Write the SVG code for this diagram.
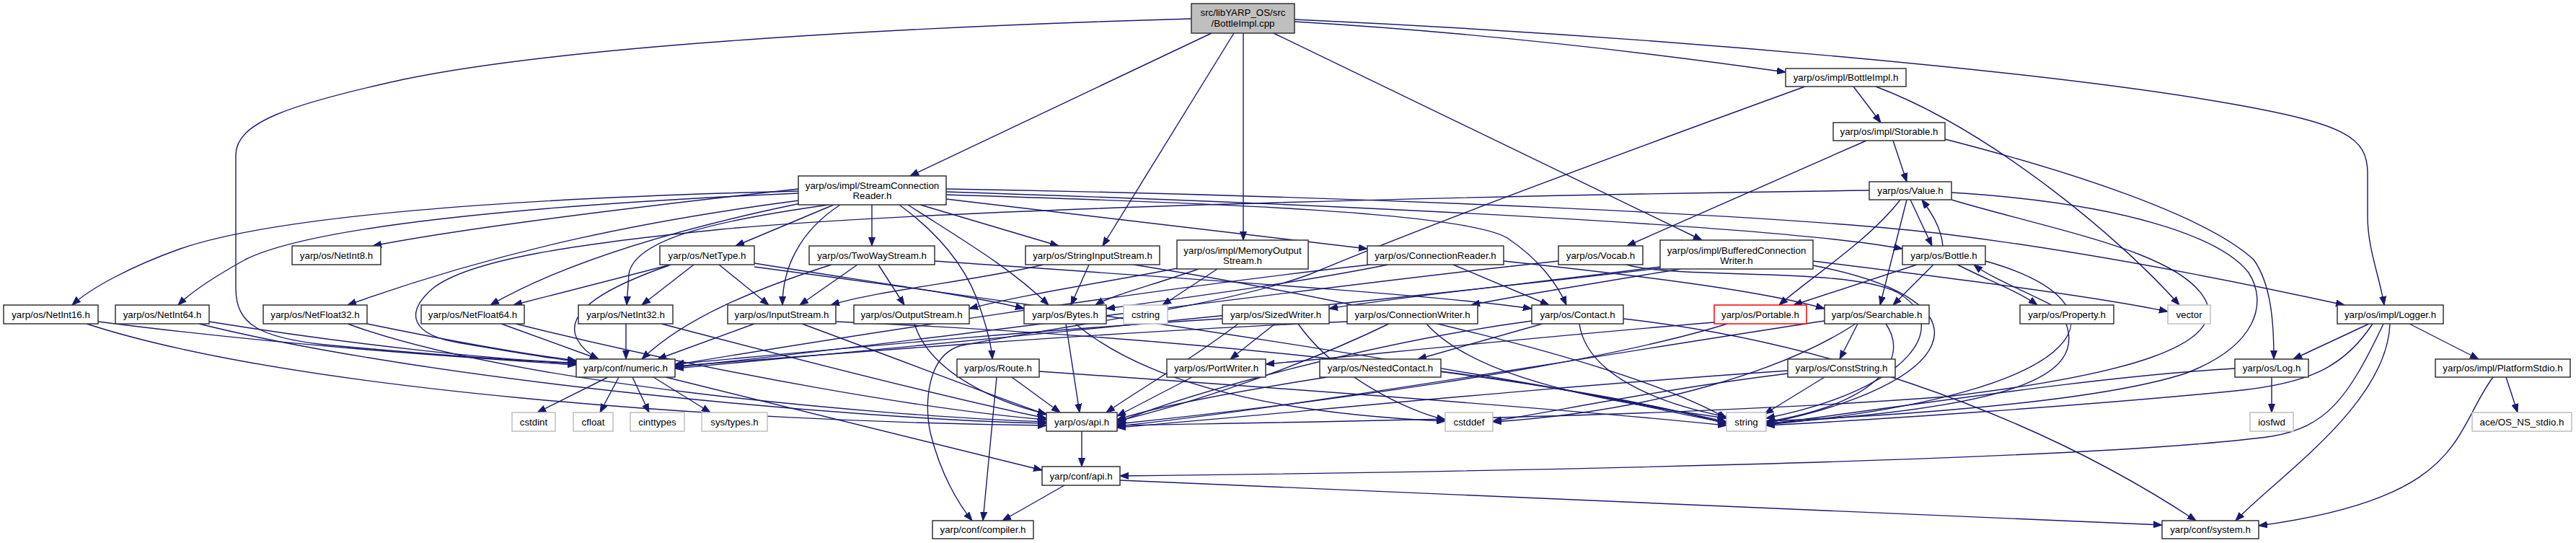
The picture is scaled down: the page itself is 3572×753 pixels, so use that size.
<svg xmlns="http://www.w3.org/2000/svg" width="3572" height="753" viewBox="0 0 3572 753">
<style>
.n rect{fill:#fff;stroke:#333;stroke-width:1.5}
.g rect{fill:#fff;stroke:#bfbfbf;stroke-width:1.5}
.r rect{fill:#fff;stroke:#ff0000;stroke-width:1.5}
.root rect{fill:#bfbfbf;stroke:#333;stroke-width:1.5}
text{font-family:"Liberation Sans",Arial,sans-serif;font-size:13.3px;fill:#000;text-anchor:middle}
#edges path{fill:none;stroke:#191970;stroke-width:1.4;marker-end:url(#a)}
</style>
<defs>
<marker id="a" markerWidth="13" markerHeight="10" refX="12" refY="5" orient="auto" markerUnits="userSpaceOnUse"><path d="M0,0.5 L12,5 L0,9.5 z" fill="#191970" stroke="#191970" stroke-width="1"/></marker>
</defs>
<rect width="3572" height="753" fill="#fff"/>
<g id="edges">
<path d="M1652,26 C1300,36 800,60 560,110 C400,145 327,170 327,215 L327,400 C327,450 360,468 450,478 C600,492 720,500 799,504"/>
<path d="M1680,46 L1262,244"/>
<path d="M1711,46 L1529,341"/>
<path d="M1724,46 L1724,333"/>
<path d="M1766,46 L2360,333"/>
<path d="M1795,30 C2050,45 2300,75 2476,100"/>
<path d="M1795,27 C2300,50 2850,100 3100,145 C3250,172 3283,190 3283,240 L3283,300 C3283,345 3300,385 3306,423"/>
<path d="M2570,120 L2608,170"/>
<path d="M2601,120 C2760,180 2940,330 3022,423"/>
<path d="M2503,120 C2200,230 1960,320 1817,380 C1700,425 1420,460 1330,480 C1285,495 1282,560 1290,600 C1305,660 1330,700 1348,722"/>
<path d="M2625,195 L2644,252"/>
<path d="M2588,195 L2256,341"/>
<path d="M2697,193 C2880,240 3060,300 3125,360 C3150,395 3153,450 3153,498"/>
<path d="M2649,277 L2679,341"/>
<path d="M2694,341 C2692,315 2676,292 2665,277"/>
<path d="M2644,277 L2607,423"/>
<path d="M2635,277 C2590,335 2510,385 2467,423"/>
<path d="M2592,264 C2000,272 1300,290 1000,318 C800,338 650,360 600,400 C560,435 570,465 640,476 C710,488 760,497 799,501"/>
<path d="M2706,267 C2950,282 3080,330 3118,378 C3145,420 3130,480 3030,518 C2900,560 2600,578 2449,584"/>
<path d="M2706,277 C2850,320 3030,350 3060,420 C3080,480 2950,520 2700,550 C2300,580 1800,585 1549,590"/>
<path d="M1107,262 C900,285 650,315 517,341"/>
<path d="M1107,265 C700,275 380,300 250,345 C180,370 125,400 100,423"/>
<path d="M1107,268 C720,285 430,315 340,360 C295,385 265,405 247,423"/>
<path d="M1108,278 C900,305 700,345 482,423"/>
<path d="M1110,282 C950,315 790,360 680,423"/>
<path d="M1149,284 C1000,305 880,330 872,380 L869,423"/>
<path d="M1156,284 L1020,341"/>
<path d="M1165,284 C1110,320 1085,370 1085,423"/>
<path d="M1209,284 L1209,341"/>
<path d="M1247,284 C1310,330 1345,380 1360,430 C1370,460 1375,480 1376,498"/>
<path d="M1259,284 C1330,330 1400,370 1454,423"/>
<path d="M1276,284 L1468,341"/>
<path d="M1312,276 L1896,345"/>
<path d="M1312,270 C1700,282 2030,295 2090,330 C2135,360 2160,395 2172,423"/>
<path d="M1312,266 C1900,285 2480,315 2638,345"/>
<path d="M1312,262 C1900,272 2500,300 2700,325 C2900,350 3100,390 3251,423"/>
<path d="M1925,367 C1800,392 1650,412 1534,428"/>
<path d="M2015,367 L2148,423"/>
<path d="M2085,362 C2300,385 2450,405 2530,428"/>
<path d="M1900,367 C1600,400 1150,470 936,506"/>
<path d="M2161,362 C1800,400 1250,478 936,509"/>
<path d="M2255,367 C2330,388 2560,370 2630,405 C2710,450 2650,540 2449,580"/>
<path d="M2302,370 C2150,390 1950,410 1843,428"/>
<path d="M2330,373 C2200,395 2100,410 2040,423"/>
<path d="M2514,362 C2700,385 2900,410 3006,432"/>
<path d="M2514,368 C2780,420 2710,535 2449,587"/>
<path d="M2302,372 C1900,420 1250,482 936,511"/>
<path d="M1633,372 C1530,392 1420,408 1344,428"/>
<path d="M1662,373 C1600,395 1540,410 1519,423"/>
<path d="M1688,373 L1612,423"/>
<path d="M1510,367 L1485,423"/>
<path d="M1447,367 C1350,390 1220,402 1152,423"/>
<path d="M1572,367 C1900,420 2250,500 2394,580"/>
<path d="M1189,367 L1109,423"/>
<path d="M1218,367 L1254,423"/>
<path d="M1153,367 C1050,400 950,440 890,498"/>
<path d="M1296,362 C1700,390 2000,410 2124,428"/>
<path d="M962,367 L890,423"/>
<path d="M997,367 L1066,423"/>
<path d="M930,367 L712,423"/>
<path d="M928,368 C850,395 780,430 800,470 C808,485 820,493 830,498"/>
<path d="M1046,365 C1200,390 1350,410 1420,428"/>
<path d="M1046,370 C1500,430 2100,520 2394,585"/>
<path d="M868,449 L868,498"/>
<path d="M917,449 C1150,510 1350,560 1451,580"/>
<path d="M695,449 L830,498"/>
<path d="M715,449 C1000,520 1300,570 1451,582"/>
<path d="M509,449 C650,478 750,494 799,500"/>
<path d="M482,449 C700,530 1200,576 1451,585"/>
<path d="M290,446 C500,480 700,500 799,503"/>
<path d="M276,449 C600,530 1200,582 1451,587"/>
<path d="M136,446 C400,480 650,496 799,506"/>
<path d="M120,449 C400,540 1000,585 1451,590"/>
<path d="M1046,449 L912,498"/>
<path d="M1112,449 C1250,500 1380,550 1451,575"/>
<path d="M1159,446 C1700,470 2200,530 2394,588"/>
<path d="M1268,449 C1290,520 1390,560 1451,574"/>
<path d="M1478,449 L1497,572"/>
<path d="M1491,449 C1600,540 1800,575 2004,584"/>
<path d="M1403,523 L1470,572"/>
<path d="M1382,523 L1363,722"/>
<path d="M1441,515 C1800,540 2200,570 2394,590"/>
<path d="M1653,523 L1549,577"/>
<path d="M1768,449 L1706,498"/>
<path d="M1717,449 C1650,500 1580,540 1534,572"/>
<path d="M1695,442 C1400,460 1100,490 936,505"/>
<path d="M1800,449 C1850,520 1950,570 2004,582"/>
<path d="M1926,449 C1800,510 1650,560 1549,584"/>
<path d="M1978,449 C2050,530 2250,560 2394,580"/>
<path d="M1868,446 C1500,462 1100,495 936,508"/>
<path d="M2139,449 L1966,498"/>
<path d="M2124,445 C1900,475 1650,545 1549,586"/>
<path d="M2190,449 C2200,520 2300,560 2394,578"/>
<path d="M2251,442 C2500,470 2800,560 3045,722"/>
<path d="M1840,523 C1700,545 1600,565 1549,582"/>
<path d="M1998,515 C2200,540 2300,570 2394,586"/>
<path d="M2377,447 C2100,470 1900,492 1755,505"/>
<path d="M2395,449 C2200,510 1800,562 1549,588"/>
<path d="M2576,449 L2551,498"/>
<path d="M2615,449 C2650,500 2600,560 2449,585"/>
<path d="M2530,445 C2200,495 1800,565 1549,591"/>
<path d="M2573,449 C2480,510 2300,570 2070,585"/>
<path d="M2530,523 L2447,574"/>
<path d="M2479,514 C2100,540 1800,572 1549,593"/>
<path d="M2479,518 C2300,540 2150,572 2070,584"/>
<path d="M2845,423 C2800,400 2760,385 2737,367"/>
<path d="M2865,449 C2890,520 2800,565 2449,587"/>
<path d="M2658,367 L2487,423"/>
<path d="M2681,367 L2625,423"/>
<path d="M2714,367 C2760,390 2800,405 2825,423"/>
<path d="M2753,362 C2960,420 2920,545 2449,589"/>
<path d="M3285,449 L3180,498"/>
<path d="M3341,449 L3437,498"/>
<path d="M3314,449 C3310,560 3160,660 3100,722"/>
<path d="M3305,449 C3255,555 3225,592 3150,605 C2900,640 2000,655 1553,660"/>
<path d="M3290,449 C3250,510 3200,532 3100,542 C2900,562 2600,582 2449,590"/>
<path d="M3150,523 L3150,572"/>
<path d="M3099,511 C2900,522 2600,570 2449,588"/>
<path d="M3475,523 L3491,572"/>
<path d="M3457,523 C3400,600 3420,690 3132,729"/>
<path d="M843,523 L745,572"/>
<path d="M858,523 L832,572"/>
<path d="M877,523 L900,572"/>
<path d="M906,523 L985,572"/>
<path d="M923,523 L1445,652"/>
<path d="M1500,598 L1500,647"/>
<path d="M1476,673 L1390,722"/>
<path d="M1553,666 C2200,690 2700,712 2998,728"/>
</g>
<g id="root" class="root"><rect x="1652" y="5" width="143" height="41"/><text x="1723.5" y="21.5">src/libYARP_OS/src</text><text x="1723.5" y="36.5">/BottleImpl.cpp</text></g>
<g id="bottleimpl_h" class="n"><rect x="2476" y="95" width="167" height="25"/><text x="2559.5" y="112">yarp/os/impl/BottleImpl.h</text></g>
<g id="storable_h" class="n"><rect x="2542" y="170" width="155" height="25"/><text x="2619.5" y="187">yarp/os/impl/Storable.h</text></g>
<g id="value_h" class="n"><rect x="2592" y="252" width="114" height="25"/><text x="2649" y="269">yarp/os/Value.h</text></g>
<g id="scr_h" class="n"><rect x="1107" y="244" width="205" height="40"/><text x="1209.5" y="261.5">yarp/os/impl/StreamConnection</text><text x="1209.5" y="275.5">Reader.h</text></g>
<g id="netint8_h" class="n"><rect x="405" y="341" width="123" height="26"/><text x="466.5" y="358.5">yarp/os/NetInt8.h</text></g>
<g id="nettype_h" class="n"><rect x="915" y="341" width="131" height="26"/><text x="980.5" y="358.5">yarp/os/NetType.h</text></g>
<g id="twowaystream_h" class="n"><rect x="1122" y="341" width="174" height="26"/><text x="1209" y="358.5">yarp/os/TwoWayStream.h</text></g>
<g id="stringinputstream_h" class="n"><rect x="1422" y="341" width="186" height="26"/><text x="1515" y="358.5">yarp/os/StringInputStream.h</text></g>
<g id="memoryoutputstream_h" class="n"><rect x="1632" y="333" width="182" height="40"/><text x="1723" y="351.5">yarp/os/impl/MemoryOutput</text><text x="1723" y="365.5">Stream.h</text></g>
<g id="connectionreader_h" class="n"><rect x="1896" y="341" width="189" height="26"/><text x="1990.5" y="358.5">yarp/os/ConnectionReader.h</text></g>
<g id="vocab_h" class="n"><rect x="2161" y="341" width="117" height="26"/><text x="2219.5" y="358.5">yarp/os/Vocab.h</text></g>
<g id="bufferedconnectionwriter_h" class="n"><rect x="2302" y="333" width="212" height="40"/><text x="2408" y="351.5">yarp/os/impl/BufferedConnection</text><text x="2408" y="365.5">Writer.h</text></g>
<g id="bottle_h" class="n"><rect x="2638" y="341" width="115" height="26"/><text x="2695.5" y="358.5">yarp/os/Bottle.h</text></g>
<g id="netint16_h" class="n"><rect x="5" y="423" width="131" height="26"/><text x="70.5" y="440.5">yarp/os/NetInt16.h</text></g>
<g id="netint64_h" class="n"><rect x="160" y="423" width="130" height="26"/><text x="225" y="440.5">yarp/os/NetInt64.h</text></g>
<g id="netfloat32_h" class="n"><rect x="365" y="423" width="144" height="26"/><text x="437" y="440.5">yarp/os/NetFloat32.h</text></g>
<g id="netfloat64_h" class="n"><rect x="584" y="423" width="143" height="26"/><text x="655.5" y="440.5">yarp/os/NetFloat64.h</text></g>
<g id="netint32_h" class="n"><rect x="802" y="423" width="131" height="26"/><text x="867.5" y="440.5">yarp/os/NetInt32.h</text></g>
<g id="inputstream_h" class="n"><rect x="1009" y="423" width="150" height="26"/><text x="1084" y="440.5">yarp/os/InputStream.h</text></g>
<g id="outputstream_h" class="n"><rect x="1184" y="423" width="160" height="26"/><text x="1264" y="440.5">yarp/os/OutputStream.h</text></g>
<g id="bytes_h" class="n"><rect x="1420" y="423" width="114" height="26"/><text x="1477" y="440.5">yarp/os/Bytes.h</text></g>
<g id="cstring" class="g"><rect x="1558" y="423" width="61" height="26"/><text x="1588.5" y="440.5">cstring</text></g>
<g id="sizedwriter_h" class="n"><rect x="1695" y="423" width="148" height="26"/><text x="1769" y="440.5">yarp/os/SizedWriter.h</text></g>
<g id="connectionwriter_h" class="n"><rect x="1868" y="423" width="181" height="26"/><text x="1958.5" y="440.5">yarp/os/ConnectionWriter.h</text></g>
<g id="contact_h" class="n"><rect x="2124" y="423" width="127" height="26"/><text x="2187.5" y="440.5">yarp/os/Contact.h</text></g>
<g id="portable_h" class="r"><rect x="2377" y="423" width="128" height="26"/><text x="2441" y="440.5">yarp/os/Portable.h</text></g>
<g id="searchable_h" class="n"><rect x="2530" y="423" width="145" height="26"/><text x="2602.5" y="440.5">yarp/os/Searchable.h</text></g>
<g id="property_h" class="n"><rect x="2801" y="423" width="130" height="26"/><text x="2866" y="440.5">yarp/os/Property.h</text></g>
<g id="vector" class="g"><rect x="3006" y="423" width="59" height="26"/><text x="3035.5" y="440.5">vector</text></g>
<g id="logger_h" class="n"><rect x="3241" y="423" width="147" height="26"/><text x="3314.5" y="440.5">yarp/os/impl/Logger.h</text></g>
<g id="numeric_h" class="n"><rect x="799" y="498" width="137" height="25"/><text x="867.5" y="515">yarp/conf/numeric.h</text></g>
<g id="route_h" class="n"><rect x="1327" y="498" width="114" height="25"/><text x="1384" y="515">yarp/os/Route.h</text></g>
<g id="portwriter_h" class="n"><rect x="1618" y="498" width="137" height="25"/><text x="1686.5" y="515">yarp/os/PortWriter.h</text></g>
<g id="nestedcontact_h" class="n"><rect x="1830" y="498" width="168" height="25"/><text x="1914" y="515">yarp/os/NestedContact.h</text></g>
<g id="conststring_h" class="n"><rect x="2479" y="498" width="149" height="25"/><text x="2553.5" y="515">yarp/os/ConstString.h</text></g>
<g id="log_h" class="n"><rect x="3099" y="498" width="102" height="25"/><text x="3150" y="515">yarp/os/Log.h</text></g>
<g id="platformstdio_h" class="n"><rect x="3377" y="498" width="187" height="25"/><text x="3470.5" y="515">yarp/os/impl/PlatformStdio.h</text></g>
<g id="cstdint" class="g"><rect x="710" y="572" width="60" height="26"/><text x="740" y="589.5">cstdint</text></g>
<g id="cfloat" class="g"><rect x="795" y="572" width="55" height="26"/><text x="822.5" y="589.5">cfloat</text></g>
<g id="cinttypes" class="g"><rect x="874" y="572" width="75" height="26"/><text x="911.5" y="589.5">cinttypes</text></g>
<g id="sys_types_h" class="g"><rect x="973" y="572" width="91" height="26"/><text x="1018.5" y="589.5">sys/types.h</text></g>
<g id="os_api_h" class="n"><rect x="1451" y="572" width="98" height="26"/><text x="1500" y="589.5">yarp/os/api.h</text></g>
<g id="cstddef" class="g"><rect x="2004" y="572" width="66" height="26"/><text x="2037" y="589.5">cstddef</text></g>
<g id="string" class="g"><rect x="2394" y="572" width="55" height="26"/><text x="2421.5" y="589.5">string</text></g>
<g id="iosfwd" class="g"><rect x="3120" y="572" width="60" height="26"/><text x="3150" y="589.5">iosfwd</text></g>
<g id="ace_os_ns_stdio_h" class="g"><rect x="3428" y="572" width="138" height="26"/><text x="3497" y="589.5">ace/OS_NS_stdio.h</text></g>
<g id="conf_api_h" class="n"><rect x="1445" y="647" width="108" height="26"/><text x="1499" y="664.5">yarp/conf/api.h</text></g>
<g id="compiler_h" class="n"><rect x="1293" y="722" width="140" height="25"/><text x="1363" y="739">yarp/conf/compiler.h</text></g>
<g id="system_h" class="n"><rect x="2998" y="722" width="134" height="25"/><text x="3065" y="739">yarp/conf/system.h</text></g>
</svg>
